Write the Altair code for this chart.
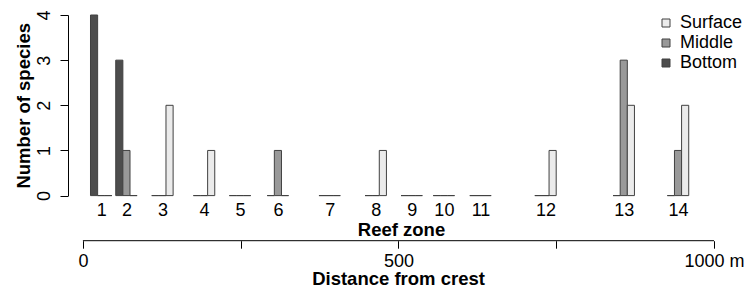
import altair as alt
import pandas as pd

# ---- data ----
zones = list(range(1, 15))
distance_m = [29, 69, 126, 192, 249, 309, 391, 464, 521, 572, 630, 733, 857, 943]
bottom = [4, 3, 0, 0, 0, 0, 0, 0, 0, 0, 0, 0, 0, 0]
middle = [0, 1, 0, 0, 0, 1, 0, 0, 0, 0, 0, 0, 3, 1]
surface = [0, 0, 2, 1, 0, 0, 0, 1, 0, 0, 0, 1, 2, 2]
depths = ["Bottom", "Middle", "Surface"]
legend_order = ["Surface", "Middle", "Bottom"]
legend_colors = ["#ebebeb", "#999999", "#4d4d4d"]
species_ticks = [0, 1, 2, 3, 4]
dist_ticks = [0, 250, 500, 750, 1000]
dist_line = [0, 1000]

rows = []
for i, z in enumerate(zones):
    for k, (name, vals) in enumerate(zip(depths, [bottom, middle, surface])):
        rows.append({"zone": z, "dist": distance_m[i], "depth": name, "k": k, "count": vals[i]})
df = pd.DataFrame(rows)
line_df = pd.DataFrame({"d0": [dist_line[0]], "d1": [dist_line[1]]})

BAR_W = 11.3
XDOM = [-23.6, 1000]
FONT = "Liberation Sans"
W, H = 646, 180.6

xscale = alt.Scale(domain=XDOM, nice=False, zero=False)
zone_expr = "indexof([" + ",".join(str(d) for d in distance_m) + "], datum.value) + 1"
dist_expr = "datum.value == 1000 ? '1000 m' : (datum.value == 0 || datum.value == 500 ? '' + datum.value : '')"

bars = alt.Chart(df).mark_bar(stroke="#404040", strokeWidth=1, opacity=1).transform_calculate(
    x0=f"datum.dist + (datum.k - 1.5) * {BAR_W}",
    x1=f"datum.dist + (datum.k - 0.5) * {BAR_W}",
).encode(
    x=alt.X("x0:Q", scale=xscale, axis=alt.Axis(
        values=distance_m, labelExpr=zone_expr, domain=False, ticks=False, grid=False,
        labelFont=FONT, labelFontSize=18, labelColor="black", labelBaseline="alphabetic",
        labelPadding=20, labelFlush=False, labelOverlap=False,
        title="Reef zone", titleFont=FONT, titleFontSize=18.5, titleFontWeight="bold",
        titleColor="black", titleBaseline="alphabetic", titleX=333, titleY=39.4)),
    x2="x1:Q",
    y=alt.Y("count:Q", scale=alt.Scale(domain=[0, 4], nice=False), axis=alt.Axis(
        values=species_ticks, domain=True, domainColor="black", domainWidth=1,
        ticks=True, tickSize=8, tickColor="black", tickWidth=1, grid=False,
        labelAngle=270, labelAlign="center", labelBaseline="alphabetic", labelPadding=10.5,
        labelFont=FONT, labelFontSize=18, labelColor="black",
        title="Number of species", titleFont=FONT, titleFontSize=18.5, titleFontWeight="bold",
        titleColor="black", titleAngle=270, titleAlign="center", titleBaseline="alphabetic",
        titleX=-38.6, titleY=90.3)),
    y2=alt.datum(0),
    color=alt.Color("depth:N", scale=alt.Scale(domain=legend_order, range=legend_colors),
                    legend=alt.Legend(orient="none", legendX=589, legendY=-1, title=None,
                                      symbolType="square", symbolSize=64,
                                      symbolStrokeColor="#404040", symbolStrokeWidth=1,
                                      symbolOpacity=1,
                                      labelFont=FONT, labelFontSize=18, labelColor="black",
                                      labelOffset=5, rowPadding=2, padding=0)),
)

dist_axis = alt.Chart(line_df).mark_rule(color="black", strokeWidth=1).encode(
    x=alt.X("d0:Q", scale=xscale, axis=alt.Axis(
        orient="bottom", offset=45.1, values=dist_ticks, labelExpr=dist_expr,
        domain=False, ticks=True, tickSize=7.5, tickColor="black", tickWidth=1, grid=False,
        labelFont=FONT, labelFontSize=18, labelColor="black", labelBaseline="alphabetic",
        labelPadding=18, labelFlush=False, labelOverlap=False,
        title="Distance from crest", titleFont=FONT, titleFontSize=18.5, titleFontWeight="bold",
        titleColor="black", titleBaseline="alphabetic", titleX=330, titleY=43.8)),
    x2="d1:Q",
    y=alt.value(225.7),
)

chart = alt.layer(bars, dist_axis).resolve_axis(x="independent").properties(
    width=W, height=H,
    background="white",
    autosize=alt.AutoSizeParams(type="none"),
    padding={"left": 60, "top": 7, "right": 32, "bottom": 92.4},
).configure_view(stroke="transparent", strokeWidth=0)

chart.save("out.html", embed_options={"renderer": "svg", "actions": False})
